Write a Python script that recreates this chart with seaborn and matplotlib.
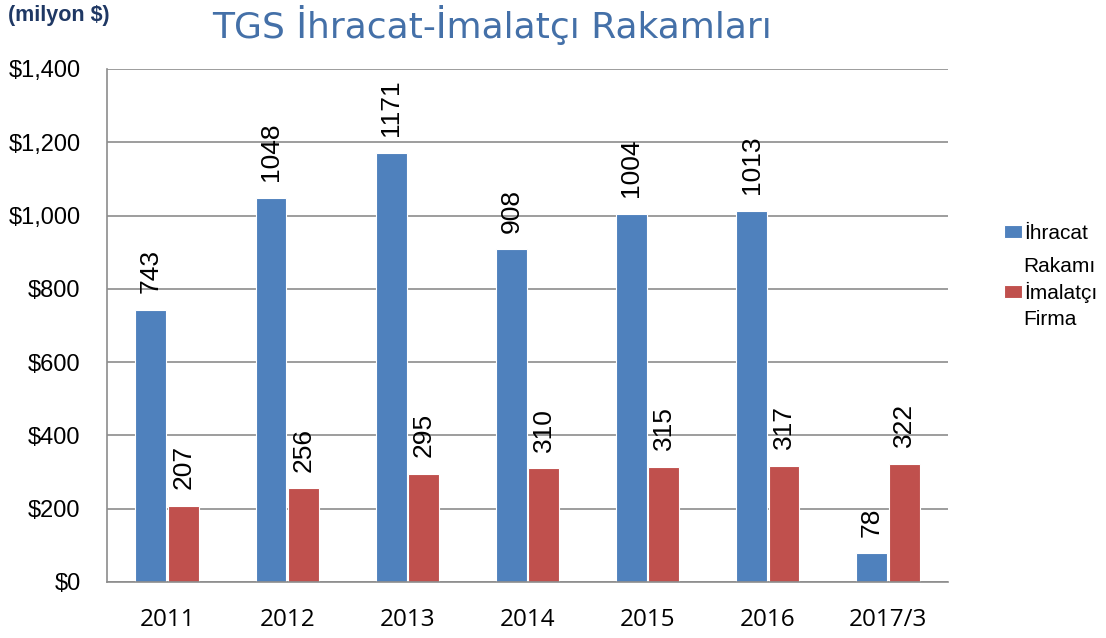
import matplotlib
matplotlib.use("Agg")
import matplotlib.pyplot as plt
import seaborn as sns
import pandas as pd
from matplotlib.ticker import FuncFormatter, FixedLocator

years = ["2011", "2012", "2013", "2014", "2015", "2016", "2017/3"]
ihracat = [743, 1048, 1171, 908, 1004, 1013, 78]
imalatci = [207, 256, 295, 310, 315, 317, 322]
series_first = ["İhracat", "İmalatçı"]
series_second = ["Rakamı", "Firma"]
colors = ["#4F81BD", "#C0504D"]

df = pd.DataFrame({
    "year": years * 2,
    "value": ihracat + imalatci,
    "series": [series_first[0]] * len(years) + [series_first[1]] * len(years),
})

sns.set_style("white")
plt.rcParams['font.family'] = ['Liberation Sans', 'DejaVu Sans']
plt.rcParams['text.color'] = 'black'
plt.rcParams['xtick.labelcolor'] = 'black'
plt.rcParams['ytick.labelcolor'] = 'black'

fig = plt.figure(figsize=(11.06, 6.38), dpi=100)
ax = fig.add_axes([107/1106, 1-582/638, (948-107)/1106, (582-69)/638])

sns.barplot(data=df, x="year", y="value", hue="series", palette=colors,
            width=0.54, gap=0.05, ax=ax, saturation=1, edgecolor="white", linewidth=0.8)

ax.set_ylim(0, 1400)
ax.set_xlim(-0.5, len(years) - 0.5)
ax.yaxis.set_major_locator(FixedLocator(range(0, 1401, 200)))
ax.yaxis.set_major_formatter(FuncFormatter(lambda v, p: f"${int(v):,}"))
ax.grid(axis="y", color="#8C8C8C", linewidth=1.2)
ax.set_axisbelow(True)
for s in ["top", "right"]:
    ax.spines[s].set_visible(False)
for s in ["left", "bottom"]:
    ax.spines[s].set_color("#8C8C8C")
    ax.spines[s].set_linewidth(1.2)
ax.tick_params(axis="y", length=9, width=1.2, color="#8C8C8C", labelsize=17, pad=10,
               labelcolor="black")
ax.tick_params(axis="x", which="major", length=0, labelsize=17, pad=19, labelcolor="black")
ax.set_xticks([i + 0.5 for i in range(-1, len(years))], minor=True)
ax.tick_params(axis="x", which="minor", length=9, width=1.2, color="#8C8C8C")
for lab in ax.get_xticklabels():
    lab.set_fontfamily(["Open Sans", "DejaVu Sans"])
    lab.set_fontsize(17.5)
ax.set_xlabel("")
ax.set_ylabel("")

for cont in ax.containers:
    for bar in cont:
        h = bar.get_height()
        ax.annotate(f"{int(round(h))}", (bar.get_x() + bar.get_width() / 2, h),
                    xytext=(0, 12), textcoords="offset points", rotation=90,
                    ha="center", va="bottom", fontsize=19, color="black",
                    fontfamily=["Liberation Sans", "DejaVu Sans"])

handles, labels = ax.get_legend_handles_labels()
leg = ax.legend(handles, labels, loc="upper left", bbox_to_anchor=(1004/1106, 1-224/638),
                bbox_transform=fig.transFigure, frameon=False, fontsize=15,
                handlelength=0.85, handleheight=0.6, handletextpad=0.1,
                labelspacing=1.85, borderpad=0, borderaxespad=0, labelcolor="black")
fig.text(1023/1106, 1-266/638, series_second[0], fontsize=15, va="center", ha="left",
         color="black")
fig.text(1023/1106, 1-320/638, series_second[1], fontsize=15, va="center", ha="left",
         color="black")

fig.text(8/1106, 1-16/638, "(milyon $)", fontsize=15.5, fontweight="bold",
         color="#1F3864", va="center", ha="left")
fig.text(492/1106, 1-25/638, "TGS İhracat-İmalatçı Rakamları", fontsize=26,
         color="#4470A8", va="center", ha="center",
         fontfamily=["DejaVu Sans"])

fig.savefig("out.png", dpi=100)
